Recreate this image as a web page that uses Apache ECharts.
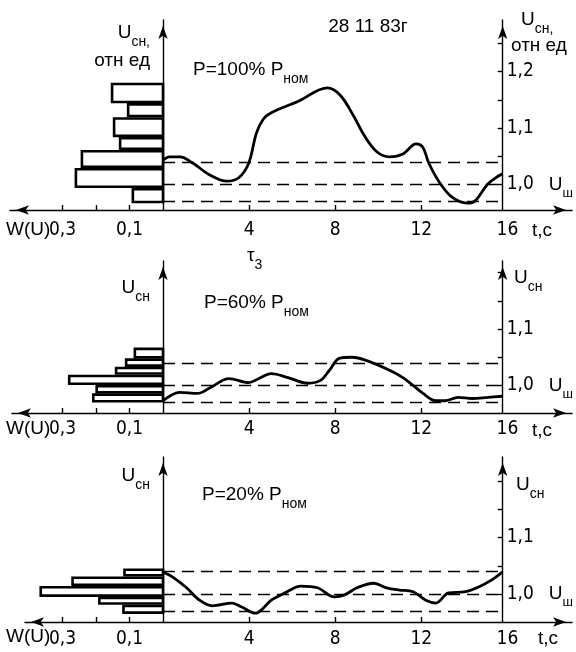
<!DOCTYPE html>
<html><head><meta charset="utf-8">
<script src="https://cdn.jsdelivr.net/npm/echarts@6/dist/echarts.min.js"></script>
<style>html,body{margin:0;padding:0;background:#fff}#c{width:576px;height:652px}</style>
</head><body><div id="c"></div>
<script>
const SANS = "'Liberation Sans', Arial, sans-serif";
const NARROW = "'Liberation Sans Narrow', 'DejaVu Sans Condensed', 'Liberation Sans', sans-serif";

// ---- Panel 1: P = 100% Pном ----
const t1 = [0,0.3,0.8,1.4,2.2,3.0,3.57,4.04,4.4,4.73,5.1,6.35,7.75,8.35,9.0,9.46,10.07,10.67,11.3,11.92,12.24,12.52,13.0,13.6,14.33,14.7,15.3,15.8,16];
const u1 = [1.043,1.049,1.049,1.038,1.017,1.006,1.012,1.038,1.091,1.116,1.127,1.147,1.171,1.158,1.12,1.088,1.058,1.049,1.054,1.072,1.066,1.038,1.005,0.978,0.967,0.971,1.001,1.015,1.019];
const histEdges1 = [0.967,0.994,1.029,1.061,1.084,1.119,1.144,1.180];
const histW1 = [0.09,0.26,0.242,0.128,0.146,0.104,0.152];
const bands1 = [1.04,1.0,0.97];
const uLabels1 = [1.0,1.1,1.2];
const uTicks1 = [1.0,1.05,1.1,1.15,1.2,1.25];

// ---- Panel 2: P = 60% Pном ----
const t2 = [0,0.79,1.62,2.18,3.11,4.04,4.5,5.1,5.89,6.82,7.42,7.84,8.3,8.9,9.6,10.67,11.3,11.78,12.25,12.85,13.3,13.9,14.56,15.3,16];
const u2 = [0.973,0.988,0.986,0.995,1.012,1.005,1.012,1.021,1.014,1.004,1.009,1.027,1.048,1.050,1.044,1.027,1.014,1.0,0.986,0.973,0.973,0.979,0.977,0.979,0.981];
const histEdges2 = [0.970,0.986,1.001,1.019,1.033,1.048,1.067];
const histW2 = [0.208,0.198,0.28,0.14,0.11,0.084];
const bands2 = [1.04,1.0,0.97];
const uLabels2 = [1.0,1.1];
const uTicks2 = [1.0,1.05,1.1,1.15,1.2];

// ---- Panel 3: P = 20% Pном ----
const t3 = [0,0.46,1.11,1.72,2.32,3.25,3.71,4.36,4.64,5.1,5.75,6.49,7.28,8.07,8.53,9.14,9.93,10.53,11.13,11.78,12.38,12.85,13.45,14.24,14.84,15.49,16];
const u3 = [1.039,1.030,1.011,0.989,0.979,0.984,0.977,0.966,0.972,0.989,1.002,1.014,1.011,0.995,0.998,1.011,1.019,1.011,1.007,1.004,0.989,0.984,1.002,1.004,1.012,1.025,1.039];
const histEdges3 = [0.965,0.981,0.995,1.014,1.031,1.045];
const histW3 = [0.118,0.19,0.365,0.27,0.115];
const bands3 = [1.042,1.0,0.966];
const uLabels3 = [1.0,1.1];
const uTicks3 = [1.0,1.05,1.1,1.15,1.2];

const timeLabels = [4,8,12,16];
const timeTicks = [4,8,12];
const wTicks = [0.1,0.2,0.3];
const wLabels = [0.1,0.3];

const panels = [
  {t:t1,u:u1,edges:histEdges1,w:histW1,bands:bands1,uLab:uLabels1,uTick:uTicks1},
  {t:t2,u:u2,edges:histEdges2,w:histW2,bands:bands2,uLab:uLabels2,uTick:uTicks2},
  {t:t3,u:u3,edges:histEdges3,w:histW3,bands:bands3,uLab:uLabels3,uTick:uTicks3}
];
// layout (pixels)
const layout = [
  {top:20, base:210, one:184.5, histLeft:10, labMargin:11},
  {top:261, base:413, one:385.5, histLeft:12, labMargin:7},
  {top:457, base:622, one:594, histLeft:25, labMargin:8}
];
const X0 = 163, XW = 409, TMAX = 19, PXU = 565, PXW = 335;
const PXT = XW / TMAX;

const AX = {color:'#000', width:1.4};
const arrowEnd = {show:true, onZero:false, symbol:['none','arrow'], symbolSize:[7,13], symbolOffset:[0,-6], lineStyle:AX};
const arrowStart = {show:true, onZero:false, symbol:['arrow','none'], symbolSize:[7,13], symbolOffset:[6,0], lineStyle:AX};
const comma = v => v.toFixed(1).replace('.', ',');

const grid = [], xAxis = [], yAxis = [], series = [];
panels.forEach((p, k) => {
  const L = layout[k];
  const h = L.base - L.top;
  const ymin = 1 - (L.base - L.one) / PXU;
  const ymax = 1 + (L.one - L.top) / PXU;
  const g = grid.length;
  grid.push({left:X0, top:L.top, width:16*PXT, height:h});
  grid.push({left:X0, top:L.top, width:XW, height:h});
  grid.push({left:L.histLeft, top:L.top, width:X0 - L.histLeft, height:h});
  const xi = xAxis.length, yi = yAxis.length;
  xAxis.push({gridIndex:g, type:'value', min:0, max:16, show:false});
  xAxis.push({gridIndex:g+1, type:'value', min:0, max:TMAX, axisLine:arrowEnd,
    axisTick:{show:true, inside:true, length:5, customValues:timeTicks, lineStyle:AX},
    axisLabel:{show:true, customValues:timeLabels, color:'#000', fontSize:19, fontFamily:NARROW, margin:L.labMargin},
    splitLine:{show:false}});
  xAxis.push({gridIndex:g+2, type:'value', inverse:true, min:0, max:(X0 - L.histLeft)/PXW, axisLine:arrowStart,
    axisTick:{show:true, inside:true, length:5, customValues:wTicks, lineStyle:AX},
    axisLabel:{show:true, customValues:wLabels, color:'#000', fontSize:19, fontFamily:NARROW, margin:L.labMargin, formatter:comma},
    splitLine:{show:false}});
  yAxis.push({gridIndex:g, type:'value', min:ymin, max:ymax, position:'left', axisLine:arrowEnd,
    axisTick:{show:false}, axisLabel:{show:false}, splitLine:{show:false}});
  yAxis.push({gridIndex:g, type:'value', min:ymin, max:ymax, position:'right', axisLine:arrowEnd,
    axisTick:{show:true, inside:true, length:5, customValues:p.uTick, lineStyle:AX},
    axisLabel:{show:true, customValues:p.uLab, margin:4, color:'#000',
      formatter: v => Math.abs(v-1) < 1e-9 ? '{n|1,0}{u|U}{s|ш}' : '{n|' + comma(v) + '}',
      rich:{n:{fontSize:19, fontFamily:NARROW, lineHeight:30, color:'#000'},
            u:{fontSize:19, fontFamily:SANS, lineHeight:30, padding:[0,0,0,15], color:'#000'},
            s:{fontSize:13, fontFamily:SANS, verticalAlign:'bottom', color:'#000'}}},
    splitLine:{show:false}});
  yAxis.push({gridIndex:g+1, type:'value', min:ymin, max:ymax, show:false});
  yAxis.push({gridIndex:g+2, type:'value', min:ymin, max:ymax, show:false});

  series.push({type:'line', xAxisIndex:xi, yAxisIndex:yi, data:p.t.map((v,i)=>[v,p.u[i]]),
    smooth:0.35, showSymbol:false, lineStyle:{color:'#000', width:2.8}, silent:true,
    markLine:{silent:true, symbol:'none', label:{show:false},
      lineStyle:{color:'#000', type:[12,7], width:1.3}, data:p.bands.map(b=>({yAxis:b}))}});
  series.push({type:'custom', xAxisIndex:xi+2, yAxisIndex:yi+3, clip:false, silent:true,
    data:p.w.map((wv,i)=>[p.edges[i], p.edges[i+1], wv]),
    renderItem:(params, api) => {
      const a = api.coord([api.value(2), api.value(1)]);
      const b = api.coord([0, api.value(0)]);
      return {type:'rect', shape:{x:a[0], y:a[1]+1.2, width:b[0]-a[0], height:b[1]-a[1]-2.4},
        style:{fill:'#fff', stroke:'#000', lineWidth:2.6}};
    }});
});

const RICH = {
  m:{fontSize:19, fontFamily:SANS, lineHeight:32, fill:'#000'},
  s:{fontSize:14, fontFamily:SANS, verticalAlign:'bottom', fill:'#000'}
};
function T(x, y, text, align) {
  return {type:'text', x:x, y:y, silent:true, z:10,
    style:{text:text, fill:'#000', fontSize:19, fontFamily:SANS, align:align||'left', verticalAlign:'middle', rich:RICH}};
}
const graphic = [
  T(368, 27, '{m|28 11 83г}', 'center'),
  T(193, 70, '{m|P=100% P}{s|ном}'),
  T(204, 303, '{m|P=60% P}{s|ном}'),
  T(202, 495, '{m|P=20% P}{s|ном}'),
  T(150, 33, '{m|U}{s|сн,}', 'right'),
  T(150, 61, '{m|отн ед}', 'right'),
  T(150, 288, '{m|U}{s|сн}', 'right'),
  T(150, 476, '{m|U}{s|сн}', 'right'),
  T(521, 20, '{m|U}{s|сн,}'),
  T(511, 46, '{m|отн ед}'),
  T(514, 278, '{m|U}{s|сн}'),
  T(516, 485, '{m|U}{s|сн}'),
  T(6, 230, '{m|W(U)}'),
  T(6, 429, '{m|W(U)}'),
  T(6, 637, '{m|W(U)}'),
  T(532, 231, '{m|t,c}'),
  T(532, 431, '{m|t,c}'),
  T(538, 639, '{m|t,c}'),
  T(247, 256, '{m|τ}{s|3}')
];

const chart = echarts.init(document.getElementById('c'), null, {renderer:'canvas'});
chart.setOption({backgroundColor:'#fff', animation:false, grid, xAxis, yAxis, series, graphic});
</script>
</body></html>
